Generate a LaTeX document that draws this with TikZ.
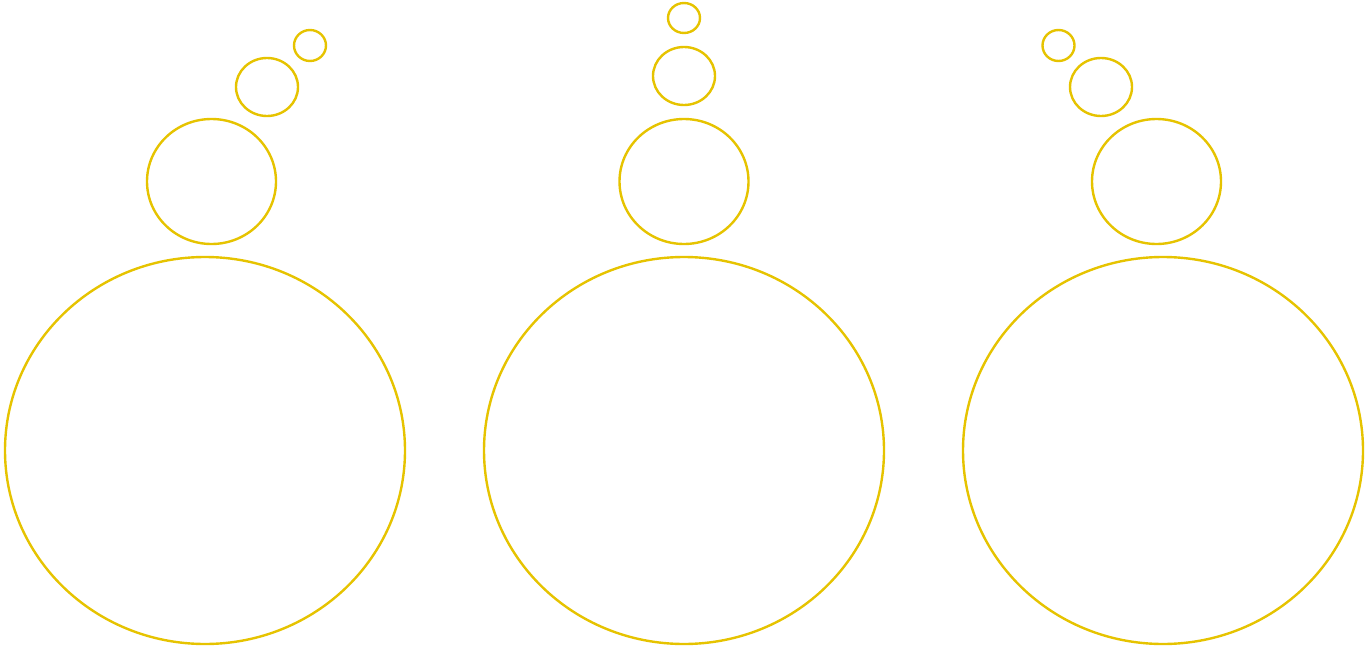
\documentclass[tikz,border=0pt]{standalone}
\definecolor{bubble}{HTML}{E6C300}
\tikzset{bub/.style={draw=bubble,line width=2.4pt}}
\begin{document}
\begin{tikzpicture}[x=1pt,y=-1pt]
\useasboundingbox (0,0) rectangle (1366,653);
% left
\draw[bub] (205,450.5) ellipse [x radius=200,y radius=193.5];
\draw[bub] (211.5,181.5) ellipse [x radius=64.5,y radius=62.5];
\draw[bub] (267,87) ellipse [x radius=31,y radius=29];
\draw[bub] (310,45.5) ellipse [x radius=16,y radius=15.5];
% middle
\draw[bub] (684,450.5) ellipse [x radius=200,y radius=193.5];
\draw[bub] (684,181.5) ellipse [x radius=64.5,y radius=62.5];
\draw[bub] (684,76) ellipse [x radius=31,y radius=29];
\draw[bub] (684,18) ellipse [x radius=16,y radius=15];
% right
\draw[bub] (1163,450.5) ellipse [x radius=200,y radius=193.5];
\draw[bub] (1156.5,181.5) ellipse [x radius=64.5,y radius=62.5];
\draw[bub] (1101,87) ellipse [x radius=31,y radius=29];
\draw[bub] (1058.5,45.5) ellipse [x radius=16,y radius=15.5];
\end{tikzpicture}
\end{document}
